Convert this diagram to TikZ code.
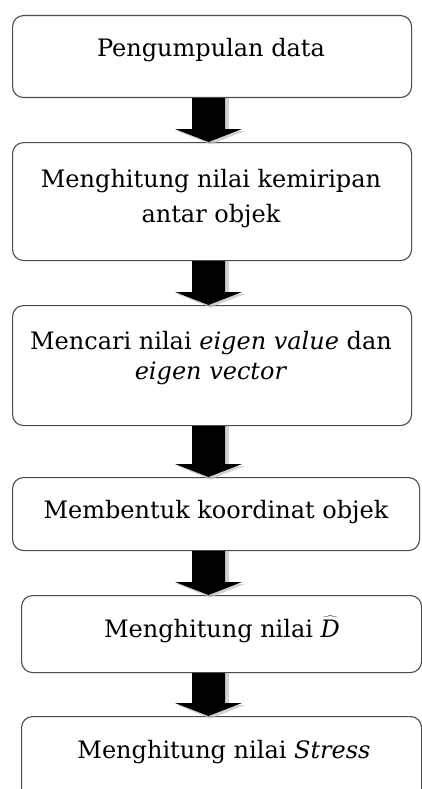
\documentclass[tikz,border=0pt]{standalone}
\usepackage{fontspec}
\setmainfont{DejaVu Serif}
\usetikzlibrary{calc}
\tikzset{
  box/.style={draw=black!70, line width=1.1pt, rounded corners=11pt, fill=white, inner sep=0pt, anchor=north west},
  txt/.style={inner sep=0pt, font=\fontsize{24}{30}\selectfont, align=center},
  arrshadow/.style={fill=black!25, opacity=.7},
  arrbody/.style={fill=black},
}
\newcommand\blkarrow[2]{%
  \path[arrshadow] let \p1=(#1.south), \p2=(#2.north) in
    (195pt,\y1) -- (229pt,\y1) -- (229pt,\y2+11pt) -- (245pt,\y2+11pt) -- (210.5pt,\y2-2.5pt) -- (177pt,\y2+11pt) -- (195pt,\y2+11pt) -- cycle;
  \path[arrbody] let \p1=(#1.south), \p2=(#2.north) in
    (192pt,\y1) -- (225pt,\y1) -- (225pt,\y2+13pt) -- (242pt,\y2+13pt) -- (208.5pt,\y2) -- (175pt,\y2+13pt) -- (192pt,\y2+13pt) -- cycle;
}
\begin{document}
\begin{tikzpicture}[x=1pt,y=-1pt]
\useasboundingbox (0,0) rectangle (422,789);
\clip (0,0) rectangle (422,789);
\node[box, minimum width=399pt, minimum height=82pt] (b1) at (12,15) {};
\node[box, minimum width=399pt, minimum height=118pt] (b2) at (12,142) {};
\node[box, minimum width=399pt, minimum height=120pt] (b3) at (12,305) {};
\node[box, minimum width=407pt, minimum height=73pt] (b4) at (12,477) {};
\node[box, minimum width=400pt, minimum height=77pt] (b5) at (21,595) {};
\node[box, minimum width=400pt, minimum height=100pt] (b6) at (21,716) {};
\node[txt, anchor=base] (t1) at (211,57) {Pengumpulan data};
\node[txt] (t2) at (211,199) {Menghitung nilai kemiripan\\[5pt] antar objek};
\node[txt] (t3) at (211,358) {Mencari nilai \textit{eigen value} dan\\[0pt] \textit{eigen vector}};
\node[txt, anchor=base] (t4) at (216,518) {Membentuk koordinat objek};
\node[txt, anchor=base] (t5) at (222,637) {Menghitung nilai $\widehat{\textit{D}}$};
\node[txt, anchor=base] (t6) at (224,758) {Menghitung nilai \textit{Stress}};
\blkarrow{b1}{b2}
\blkarrow{b2}{b3}
\blkarrow{b3}{b4}
\blkarrow{b4}{b5}
\blkarrow{b5}{b6}
\end{tikzpicture}
\end{document}
